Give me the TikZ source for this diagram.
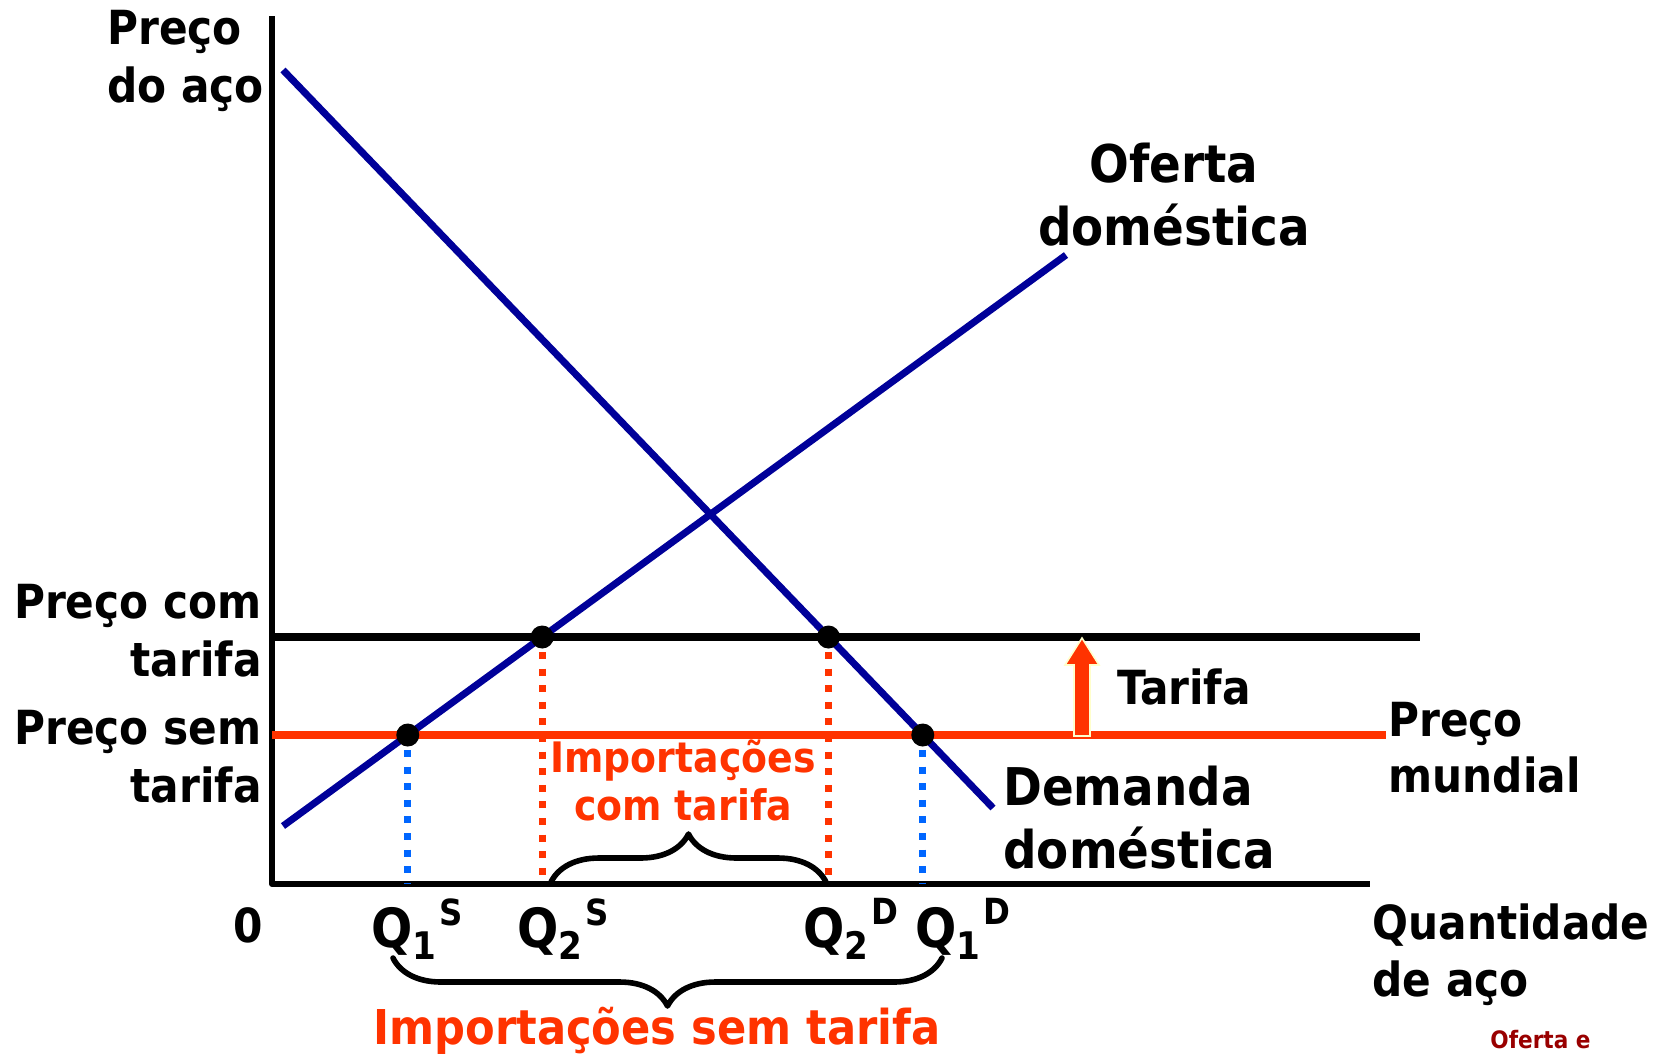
\documentclass[tikz,border=0pt]{standalone}
\usepackage{fontspec}
\setmainfont{DejaVu Sans Condensed Bold}
\usepackage{tikz}
\usetikzlibrary{intersections}
\usetikzlibrary{decorations.pathreplacing}
\definecolor{curveblue}{RGB}{0,0,153}
\definecolor{worldred}{RGB}{255,51,0}
\definecolor{dotblue}{RGB}{0,102,255}
\definecolor{edgeyellow}{RGB}{255,255,204}
\definecolor{notered}{RGB}{153,0,0}
\newcommand\qlabel[2]{Q\raisebox{-0.22em}{\fontsize{19}{19}\selectfont #1}\hspace{0.05em}\raisebox{0.42em}{\fontsize{18}{18}\selectfont #2}}

\begin{document}
\begin{tikzpicture}[line cap=round,line join=round,x=0.5pt,y=-0.5pt,
    lab/.style={inner sep=0pt, font=\fontsize{23.5}{29}\selectfont},
    biglab/.style={inner sep=0pt, font=\fontsize{26}{31.5}\selectfont},
    implab/.style={inner sep=0pt, text=worldred, align=center, font=\fontsize{21}{24}\selectfont},
    qlab/.style={inner sep=0pt, font=\fontsize{27}{30}\selectfont},
    axis/.style={line width=3pt, line cap=butt},
    curve/.style={line width=3.5pt, curveblue, line cap=butt},
    priceline/.style={line width=3.6pt, line cap=butt},
    dot/.style={circle, fill=black, inner sep=0pt, minimum size=11.5pt},
    dotb/.style={line width=3.4pt, dotblue, line cap=butt, dash pattern=on 3.5pt off 4.8pt},
    dotr/.style={line width=3.4pt, worldred, line cap=butt, dash pattern=on 3.5pt off 4.8pt},
    bracket/.style={line width=2.8pt, decorate, decoration={brace, amplitude=24pt, aspect=0.5}}]
    \useasboundingbox (0,0) rectangle (1655,1057);

    \coordinate (o) at (272,884);
    \coordinate (ytop) at (272,16);
    \coordinate (xend) at (1370,884);
    \coordinate (s0) at (283,826);
    \coordinate (s1) at (1066,255);
    \coordinate (d0) at (283,70);
    \coordinate (d1) at (993,808);
    \coordinate (tx0) at (272,637);
    \coordinate (tx1) at (1420,637);
    \coordinate (wp0) at (272,735);
    \coordinate (wp1) at (1386,735);

    \draw[axis] (ytop) -- (o) -- (xend);
    \draw[priceline, worldred, name path=wld] (wp0) -- (wp1);
    \draw[priceline, name path=tax] (tx0) -- (tx1);
    \draw[curve, name path=sup] (s0) -- (s1);
    \draw[curve, name path=dem] (d0) -- (d1);

    \path[name intersections={of=sup and wld, by=q1s}];
    \path[name intersections={of=sup and tax, by=q2s}];
    \path[name intersections={of=dem and tax, by=q2d}];
    \path[name intersections={of=dem and wld, by=q1d}];

    \draw[dotb] (q1s) ++(0,15) -- (q1s |- o);
    \draw[dotb] (q1d) ++(0,15) -- (q1d |- o);
    \draw[dotr] (q2s) ++(0,15) -- (q2s |- o);
    \draw[dotr] (q2d) ++(0,15) -- (q2d |- o);

    \node[dot] (n1s) at (q1s) {};
    \node[dot] (n2s) at (q2s) {};
    \node[dot] (n2d) at (q2d) {};
    \node[dot] (n1d) at (q1d) {};

    \coordinate (tb) at (1082,736);
    \coordinate (tt) at (1082,638);
    \draw[fill=worldred, draw=edgeyellow, line width=0.8pt, line cap=butt, line join=miter]
        (tb) ++(-8,0) -- ++(0,-71) -- ++(-9,0) -- (tt) -- ++(17,27) -- ++(-9,0) -- ++(0,71) -- cycle;

    \node[lab, anchor=west, align=left] (ylab) at (107,61) {Preço\\do aço};
    \node[lab, anchor=east, align=right] (ptax) at (262,631) {Preço com\\tarifa};
    \node[lab, anchor=east, align=right] (pfree) at (262,757) {Preço sem\\tarifa};
    \node[biglab, align=center] (olab) at (1174,195) {Oferta\\doméstica};
    \node[biglab, anchor=west, align=left] (dlab) at (1003,818) {Demanda\\doméstica};
    \node[lab, anchor=west, align=left, font=\fontsize{23.5}{28}\selectfont] (wlab) at (1388,748) {Preço\\mundial};
    \node[lab, anchor=west, align=left, font=\fontsize{23.5}{28.5}\selectfont] (xlab) at (1372,955) {Quantidade\\de aço};
    \node[lab] (tlab) at (1184,687) {Tarifa};
    \node[lab] (zero) at (248,925) {0};

    \node[qlab] (l1s) at (417,929) {\qlabel{1}{S}};
    \node[qlab] (l2s) at (563,929) {\qlabel{2}{S}};
    \node[qlab] (l2d) at (851,929) {\qlabel{2}{D}};
    \node[qlab] (l1d) at (963,929) {\qlabel{1}{D}};

    \draw[bracket] (551,882) -- (826,882);
    \node[implab] (iwith) at (683,780) {Importações\\com tarifa};
    \draw[bracket] (942,958) -- (393,958);
    \node[implab, font=\fontsize{24}{28}\selectfont] (iwithout) at (657,1031) {Importações sem tarifa};

    \node[inner sep=0pt, anchor=south west, text=notered, font=\fontsize{12}{14}\selectfont] (cut) at (1490,1049) {Oferta e};
\end{tikzpicture}
\end{document}
